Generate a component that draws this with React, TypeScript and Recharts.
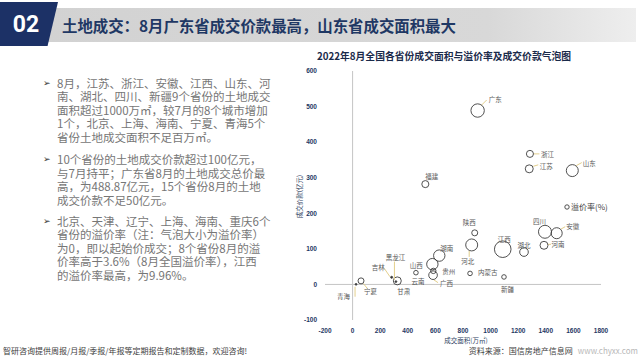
import React from 'react';
import { ScatterChart, Scatter, XAxis, YAxis, ZAxis, ReferenceLine, Legend } from 'recharts';

// ---------------- data ----------------
const provinces = ['广东', '浙江', '江苏', '山东', '福建', '陕西', '四川', '安徽', '河南', '江西', '湖北', '河北', '湖南', '内蒙古', '新疆', '山西', '贵州', '广西', '云南', '甘肃', '黑龙江', '吉林', '宁夏', '青海'];
// 成交面积 (万㎡)
const landArea = [906, 1285, 1280, 1592, 527, 885, 1394, 1479, 1387, 1088, 1242, 863, 628, 851, 1097, 578, 585, 583, 459, 324, 314, 283, 61, 25];
// 成交价款 (亿元)
const landPrice = [488.87, 367, 325, 320, 282, 145, 148, 144, 110, 99, 91, 111, 81, 31, 21, 57, 38, 26, 33, 10, 8, 20, 10, 0.3];
// 溢价率 (%)
const premiumRate = [6.5, 1.8, 2.3, 5.2, 1.8, 1.3, 6.1, 4.4, 2.3, 9.96, 2.7, 5.2, 4.7, 0.76, 0.76, 4.7, 1.05, 2.7, 0.76, 2.3, 0.1, 0.15, 1.3, 0.1];

const xTicks = [-200, 0, 200, 400, 600, 800, 1000, 1200, 1400, 1600, 1800];
const yTicks = [-100, 0, 100, 200, 300, 400, 500, 600];

const headerNumber = '02';
const headerTitle = '土地成交：8月广东省成交价款最高，山东省成交面积最大';
const chartTitle = '2022年8月全国各省份成交面积与溢价率及成交价款气泡图';
const seriesName = '溢价率(%)';
const xAxisTitle = '成交面积(万㎡)';
const yAxisTitle = '成交价款(亿元)';

const paragraph1 = [
  '8月，江苏、浙江、安徽、江西、山东、河',
  '南、湖北、四川、新疆9个省份的土地成交',
  '面积超过1000万㎡，较7月的8个城市增加',
  '1个，北京、上海、海南、宁夏、青海5个',
  '省份土地成交面积不足百万㎡。',
];
const paragraph2 = [
  '10个省份的土地成交价款超过100亿元，',
  '与7月持平；广东省8月的土地成交总价最',
  '高，为488.87亿元，15个省份8月的土地',
  '成交价款不足50亿元。',
];
const paragraph3 = [
  '北京、天津、辽宁、上海、海南、重庆6个',
  '省份的溢价率（注：气泡大小为溢价率）',
  '为0，即以起始价成交；8个省份8月的溢',
  '价率高于3.6%（8月全国溢价率），江西',
  '的溢价率最高，为9.96%。',
];
const footerLeft = '智研咨询提供周报/月报/季报/年报等定期报告和定制数据，欢迎咨询!';
const footerSource = '资料来源：国信房地产信息网';
const footerSite = 'www.chyxx.com';

const chartData = provinces.map((name, i) => ({ name, x: landArea[i], y: landPrice[i], z: premiumRate[i] }));

// ---------------- layout / style ----------------
const CJK = '"Noto Sans CJK SC", "Noto Sans", sans-serif';
const NAVY = '#1f3864';

type LabelLayout = { dx: number; dy: number; anchor: 'start' | 'middle' | 'end'; leader?: [number, number, number, number] };
const LABEL_LAYOUT: Record<string, LabelLayout> = {
  广东: { dx: 11, dy: -12, anchor: 'start', leader: [3.5, -5, 9, -10.5] },
  浙江: { dx: 11, dy: 0, anchor: 'start', leader: [3.5, 0, 9.5, 0] },
  江苏: { dx: 10.5, dy: -3, anchor: 'start', leader: [4, -2.5, 9, -4] },
  山东: { dx: 10.5, dy: -8, anchor: 'start', leader: [4, -5, 9.5, -8] },
  福建: { dx: 6.5, dy: -8, anchor: 'middle' },
  陕西: { dx: -5.5, dy: -10.5, anchor: 'middle' },
  四川: { dx: -5.5, dy: -10.5, anchor: 'middle' },
  安徽: { dx: 9.5, dy: -7, anchor: 'start', leader: [4, -4, 8.5, -6.5] },
  河南: { dx: 7.5, dy: -1, anchor: 'start', leader: [4, -1, 7, -1] },
  江西: { dx: 1.5, dy: -10, anchor: 'middle' },
  湖北: { dx: 0, dy: -7, anchor: 'middle' },
  河北: { dx: -4, dy: 16, anchor: 'middle', leader: [-2.5, 6, -2.5, 12] },
  湖南: { dx: 7.5, dy: -8, anchor: 'middle' },
  内蒙古: { dx: 8, dy: -1.3, anchor: 'start' },
  新疆: { dx: 3.5, dy: 12, anchor: 'middle' },
  山西: { dx: -9.5, dy: 0.7, anchor: 'end' },
  贵州: { dx: 9, dy: 0, anchor: 'start' },
  广西: { dx: 7, dy: 8, anchor: 'start', leader: [0.5, 4.5, 5, 7.5] },
  云南: { dx: 2, dy: 8.5, anchor: 'middle' },
  甘肃: { dx: 6.5, dy: 10, anchor: 'middle' },
  黑龙江: { dx: -0.5, dy: -24.5, anchor: 'middle', leader: [-1.5, -20, -1.5, -2] },
  吉林: { dx: -13.5, dy: -10.3, anchor: 'middle', leader: [-7.4, -9, -1.7, -0.6] },
  宁夏: { dx: 9.5, dy: 10.3, anchor: 'middle', leader: [2.3, 2.6, 6.3, 7.6] },
  青海: { dx: -12.5, dy: 11.7, anchor: 'middle', leader: [-1, 2.4, -1, 12.4] },
};

const BubbleShape = (props: any) => {
  const { cx, cy, width, payload } = props;
  if (cx == null || cy == null) return null;
  const r = Math.max((width || 0) / 2, 0.9);
  const lay = LABEL_LAYOUT[payload?.name];
  return (
    <g>
      {lay && lay.leader ? (
        <line
          x1={cx + lay.leader[0]}
          y1={cy + lay.leader[1]}
          x2={cx + lay.leader[2]}
          y2={cy + lay.leader[3]}
          stroke="#e3cf8c"
          strokeWidth={1}
        />
      ) : null}
      <circle cx={cx} cy={cy} r={r} fill={r < 1.5 ? '#333' : 'none'} stroke="#3d3d3d" strokeWidth={0.9} />
      {lay ? (
        <text
          x={cx + lay.dx}
          y={cy + lay.dy}
          textAnchor={lay.anchor}
          dominantBaseline="central"
          fontSize={6.5}
          fill="#595959"
          fontFamily={CJK}
        >
          {payload.name}
        </text>
      ) : null}
    </g>
  );
};

const LegendContent = () => (
  <div style={{ display: 'flex', alignItems: 'center', fontSize: 8, color: '#404040', fontFamily: CJK, whiteSpace: 'nowrap', lineHeight: '10px' }}>
    <svg width={6} height={6} style={{ display: 'block' }}>
      <circle cx={3} cy={3} r={2.2} fill="none" stroke="#3d3d3d" strokeWidth={0.9} />
    </svg>
    <span style={{ marginLeft: 1 }}>{seriesName}</span>
  </div>
);

const XAxisTitle = (props: any) => {
  const vb = props.viewBox || {};
  return (
    <text x={vb.x + vb.width / 2 + 3} y={vb.y + 20} textAnchor="middle" dominantBaseline="central" fontSize={6.5} fill="#2f3f5f" fontFamily={CJK}>
      {xAxisTitle}
    </text>
  );
};

const YAxisTitle = (props: any) => {
  const vb = props.viewBox || {};
  const x = vb.x + vb.width - 26;
  const y = vb.y + vb.height / 2 + 1;
  return (
    <text x={x} y={y} textAnchor="middle" dominantBaseline="central" fontSize={6.5} fill="#2f3f5f" fontFamily={CJK} transform={`rotate(-90, ${x}, ${y})`}>
      {yAxisTitle}
    </text>
  );
};

const PARA_CENTERS = [83.3, 160, 221.7];
const LINE_STEP = 13.5;

const Paragraph = ({ lines, center }: { lines: string[]; center: number }) => (
  <>
    <div style={{ position: 'absolute', left: 43, top: center - LINE_STEP / 2, height: LINE_STEP, lineHeight: `${LINE_STEP}px`, fontSize: 9, color: '#333', fontFamily: '"DejaVu Sans", sans-serif' }}>➢</div>
    <div
      style={{
        position: 'absolute',
        left: 57,
        top: center - LINE_STEP / 2,
        lineHeight: `${LINE_STEP}px`,
        fontSize: 11.5,
        color: '#767676',
        fontFamily: CJK,
        whiteSpace: 'pre',
      }}
    >
      {lines.join('\n')}
    </div>
  </>
);

export default function App() {
  return (
    <div style={{ position: 'absolute', left: 0, top: 0, width: 640, height: 360, overflow: 'hidden', background: '#ffffff' }}>
      {/* header gray bar */}
      <div
        style={{
          position: 'absolute',
          left: 46,
          top: 8,
          width: 590,
          height: 34,
          background: 'linear-gradient(to right, #d2d2d2 0%, #d8d8d8 75%, #eeeeee 100%)',
          clipPath: 'polygon(8px 0, 100% 0, 100% 100%, 0 100%)',
        }}
      />
      {/* header navy block */}
      <div
        style={{
          position: 'absolute',
          left: 0,
          top: 2,
          width: 58,
          height: 44,
          background: '#1c3166',
          clipPath: 'polygon(0 0, 100% 0, 82% 100%, 0 100%)',
        }}
      />
      <div style={{ position: 'absolute', left: 0, top: 10, width: 52, height: 30, lineHeight: '30px', textAlign: 'center', color: '#fff', fontSize: 23, fontWeight: 700, fontFamily: 'Roboto, sans-serif' }}>
        {headerNumber}
      </div>
      <div style={{ position: 'absolute', left: 62, top: 13, height: 24, lineHeight: '24px', fontSize: 15.4, fontWeight: 700, color: NAVY, fontFamily: CJK, whiteSpace: 'nowrap' }}>
        {headerTitle}
      </div>

      {/* left text */}
      <Paragraph lines={paragraph1} center={PARA_CENTERS[0]} />
      <Paragraph lines={paragraph2} center={PARA_CENTERS[1]} />
      <Paragraph lines={paragraph3} center={PARA_CENTERS[2]} />

      {/* chart title */}
      <div style={{ position: 'absolute', left: 314, top: 49, width: 260, height: 14, lineHeight: '14px', textAlign: 'center', fontSize: 9.8, fontWeight: 700, color: '#1a2a4a', fontFamily: CJK, whiteSpace: 'nowrap' }}>
        {chartTitle}
      </div>

      <ScatterChart
        width={640}
        height={360}
        margin={{ top: 71, right: 39, bottom: 0, left: 0 }}
        style={{ position: 'absolute', left: 0, top: 0 }}
      >
        <XAxis
          type="number"
          dataKey="x"
          domain={[-200, 1800]}
          ticks={xTicks}
          interval={0}
          allowDataOverflow
          height={40}
          axisLine={false}
          tickLine={false}
          tick={{ fontSize: 6.5, fill: NAVY, fontWeight: 700, fontFamily: '"Liberation Sans", sans-serif' }}
          label={XAxisTitle}
        />
        <YAxis
          type="number"
          dataKey="y"
          domain={[-100, 600]}
          ticks={yTicks}
          interval={0}
          allowDataOverflow
          width={325}
          axisLine={false}
          tickLine={false}
          tick={{ fontSize: 6.5, fill: NAVY, fontWeight: 700, fontFamily: '"Liberation Sans", sans-serif' }}
          label={YAxisTitle}
        />
        <ZAxis type="number" dataKey="z" domain={[0, 9.96]} range={[0, 216]} />
        <ReferenceLine x={0} stroke="#c4c4c4" strokeWidth={1} />
        <ReferenceLine y={0} stroke="#c4c4c4" strokeWidth={1} />
        <Legend
          layout="vertical"
          align="center"
          verticalAlign="middle"
          content={LegendContent}
          wrapperStyle={{ left: 564, top: 202, width: 60, height: 12 }}
        />
        <Scatter name={seriesName} data={chartData} shape={BubbleShape} isAnimationActive={false} />
      </ScatterChart>

      {/* footer */}
      <div style={{ position: 'absolute', left: 3, top: 345, height: 12, lineHeight: '12px', fontSize: 8, color: '#404040', fontFamily: CJK, whiteSpace: 'nowrap' }}>
        {footerLeft}
      </div>
      <div style={{ position: 'absolute', right: 2, top: 345, height: 12, lineHeight: '12px', fontSize: 8, color: '#404040', fontFamily: CJK, whiteSpace: 'nowrap' }}>
        {footerSource}
        <span style={{ color: '#b8b8b8', marginLeft: 5 }}>{footerSite}</span>
      </div>
    </div>
  );
}
